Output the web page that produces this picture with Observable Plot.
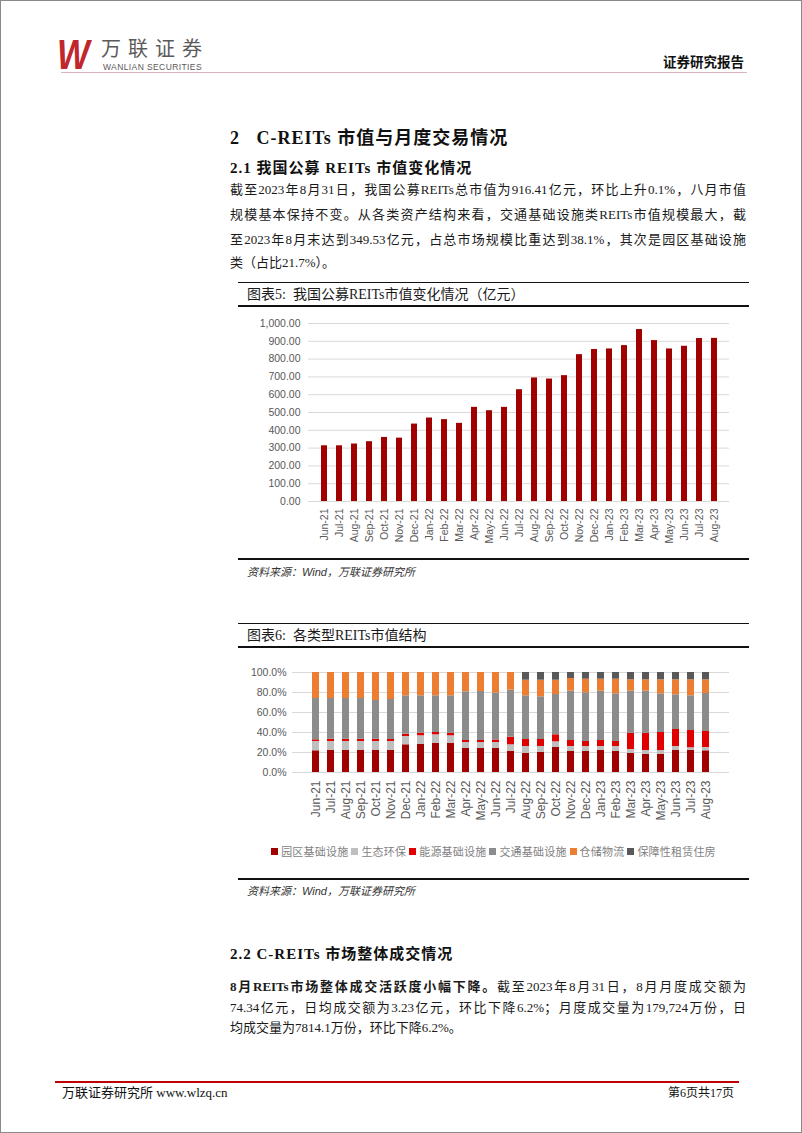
<!DOCTYPE html>
<html><head><meta charset="utf-8">
<script src="https://cdn.jsdelivr.net/npm/d3@7"></script>
<script src="https://cdn.jsdelivr.net/npm/@observablehq/plot@0.6"></script>
<style>
body{margin:0;background:#fff;}
#page{position:relative;width:802px;height:1133px;box-sizing:border-box;border:1px solid #8a8a8a;overflow:hidden;font-family:"Liberation Serif","Noto Sans CJK SC",serif;color:#111;background:#fff;}
.abs{position:absolute;white-space:nowrap;}
.para{position:absolute;left:229px;width:516px;font-size:13px;line-height:20px;text-align:justify;text-align-last:justify;white-space:nowrap;font-family:"Liberation Serif","Noto Sans CJK SC",serif;color:#1a1a1a;}
.para.last{text-align-last:left;}
.hr{position:absolute;background:#111;}
.ttl{position:absolute;left:246px;font-size:14px;line-height:18px;font-family:"Liberation Serif","Noto Sans CJK SC",serif;color:#1a1a1a;white-space:nowrap;}
.src{position:absolute;left:246px;font-size:11px;font-style:italic;font-family:"Liberation Sans","Noto Sans CJK SC",sans-serif;color:#333;white-space:nowrap;line-height:14px;}
.chart{position:absolute;left:237px;}
#legend{position:absolute;left:237px;width:511px;top:842px;height:16px;display:flex;justify-content:center;align-items:center;gap:3px;font-family:"Noto Sans CJK SC",sans-serif;font-size:11px;color:#7f7f7f;letter-spacing:0.2px;}
#legend .it{display:flex;align-items:center;gap:3px;}
#legend .sw{width:7px;height:7px;display:inline-block;}
</style></head>
<body>
<div id="page">
  <!-- header -->
  <div class="abs" style="left:56px;top:30px;font-family:'Liberation Sans',sans-serif;font-weight:bold;font-style:italic;font-size:42px;line-height:48px;color:#c0272d;transform:scaleX(0.82);transform-origin:left top;letter-spacing:-2px;">W</div>
  <div class="abs" style="left:100px;top:36px;font-family:'Noto Sans CJK SC',sans-serif;font-size:20px;line-height:22px;color:#5a5a5a;letter-spacing:7px;">万联证券</div>
  <div class="abs" style="left:102px;top:62px;font-family:'Liberation Sans',sans-serif;font-size:8.5px;line-height:9px;color:#5a5a5a;letter-spacing:0.4px;">WANLIAN SECURITIES</div>
  <div class="abs" style="left:60px;top:71px;width:686px;height:1px;background:#d8b4bc;"></div>
  <div class="abs" style="left:662px;top:51px;font-family:'Noto Sans CJK SC',sans-serif;font-weight:bold;font-size:13.5px;line-height:18px;color:#111;">证券研究报告</div>

  <!-- headings -->
  <div class="abs" style="left:229px;top:125px;font-size:18px;line-height:24px;font-weight:bold;letter-spacing:1px;">2&nbsp;&nbsp;&nbsp;C-REITs 市值与月度交易情况</div>
  <div class="abs" style="left:229px;top:157px;font-size:15px;line-height:20px;font-weight:bold;letter-spacing:1px;">2.1 我国公募 REITs 市值变化情况</div>
  <div class="para" style="top:179px;">截至2023年8月31日，我国公募REITs总市值为916.41亿元，环比上升0.1%，八月市值</div>
  <div class="para" style="top:204px;">规模基本保持不变。从各类资产结构来看，交通基础设施类REITs市值规模最大，截</div>
  <div class="para" style="top:229px;">至2023年8月末达到349.53亿元，占总市场规模比重达到38.1%，其次是园区基础设施</div>
  <div class="para last" style="top:252px;">类（占比21.7%）。</div>

  <!-- chart 5 frame -->
  <div class="hr" style="left:237px;top:281px;width:511px;height:1px;"></div>
  <div class="ttl" style="top:285px;">图表5:&nbsp; 我国公募REITs市值变化情况（亿元）</div>
  <div class="hr" style="left:237px;top:304px;width:511px;height:2px;"></div>
  <div class="chart" id="c1" style="top:310px;"></div>
  <div class="hr" style="left:237px;top:557px;width:511px;height:2px;"></div>
  <div class="src" style="top:564px;">资料来源：Wind，万联证券研究所</div>

  <!-- chart 6 frame -->
  <div class="hr" style="left:237px;top:622px;width:511px;height:1px;"></div>
  <div class="ttl" style="top:626px;">图表6:&nbsp; 各类型REITs市值结构</div>
  <div class="hr" style="left:237px;top:645px;width:511px;height:2px;"></div>
  <div class="chart" id="c2" style="top:650px;"></div>
  <div id="legend"></div>
  <div class="hr" style="left:237px;top:877px;width:511px;height:2px;"></div>
  <div class="src" style="top:883px;">资料来源：Wind，万联证券研究所</div>

  <!-- section 2.2 -->
  <div class="abs" style="left:229px;top:943px;font-size:15px;line-height:20px;font-weight:bold;letter-spacing:1px;">2.2 C-REITs 市场整体成交情况</div>
  <div class="para" style="top:976px;"><b>8月REITs市场整体成交活跃度小幅下降。</b>截至2023年8月31日，8月月度成交额为</div>
  <div class="para" style="top:997px;">74.34亿元，日均成交额为3.23亿元，环比下降6.2%；月度成交量为179,724万份，日</div>
  <div class="para last" style="top:1017px;">均成交量为7814.1万份，环比下降6.2%。</div>

  <!-- footer -->
  <div class="abs" style="left:54px;top:1080px;width:684px;height:2px;background:#c00000;"></div>
  <div class="abs" style="left:61px;top:1084px;font-size:13px;line-height:16px;">万联证券研究所 www.wlzq.cn</div>
  <div class="abs" style="left:660px;top:1084px;width:73px;text-align:right;font-size:12px;line-height:16px;">第6页共17页</div>
</div>
<script>
// ---- data ----
const months = ["Jun-21","Jul-21","Aug-21","Sep-21","Oct-21","Nov-21","Dec-21","Jan-22","Feb-22","Mar-22","Apr-22","May-22","Jun-22","Jul-22","Aug-22","Sep-22","Oct-22","Nov-22","Dec-22","Jan-23","Feb-23","Mar-23","Apr-23","May-23","Jun-23","Jul-23","Aug-23"];
const marketCap = [313,313,323,336,360,356,435,469,460,439,529,510,529,628,694,688,707,825,854,857,876,966,904,857,872,915.5,916.41];

const seriesNames = ["园区基础设施","生态环保","能源基础设施","交通基础设施","仓储物流","保障性租赁住房"];
const seriesColors = ["#a00000","#bfbfbf","#e00000","#8c8c8c","#ed7d31","#595959"];
const parkShare      = [21.7,22,22,22,22,22,27.7,28.3,29.3,29.3,24,24,24,21,19,20,25,21,21,22,21,19,18,18,22,22,21.7];
const ecoShare       = [9.3,9,9,9,9,9,8.3,8.4,8.4,7.4,6,6,6,6.7,7,6,5.7,5,5,4,5,4,4,4,4,2.7,3.3];
const energyShare    = [1.7,2.3,2.3,2.3,2.3,2,2.3,2.6,2.3,2.6,2,2,2.5,7.6,7,7,7,6,5,6,5,16.3,17.3,18,17,17.3,16];
const transportShare = [41.3,40.7,40.7,40.7,38.7,40,38.4,37.4,36.7,37.4,48.7,49,47,47,43.7,42.7,40.3,49.3,48.7,49.3,47.7,42,42,38.7,34.7,34.7,38.1];
const logisticsShare = [26,26,26,26,28,27,23.3,23.3,23.3,23.3,19.3,19,20.5,17.7,15.6,16.6,14.3,12.7,13.6,12,14.6,11.4,11.4,14,15,16,13.6];
const housingShare   = [0,0,0,0,0,0,0,0,0,0,0,0,0,0,7.7,7.7,7.7,6,6.7,6.7,6.7,7.3,7.3,7.3,7.3,7.3,7.3];
const capTicks = [0,100,200,300,400,500,600,700,800,900,1000];
const shareTicks = [0,20,40,60,80,100];

// ---- chart 5 ----
const font = "'Liberation Sans', Arial, sans-serif";
const c1 = Plot.plot({
  width: 511, height: 245,
  marginTop: 12, marginBottom: 55, marginLeft: 70, marginRight: 20,
  style: {fontFamily: font, fontSize: "10.5px", color: "#595959", background: "transparent", overflow: "visible"},
  x: {domain: months, padding: 0.62, label: null},
  y: {domain: [0, 1000], label: null},
  marks: [
    Plot.gridY(capTicks, {stroke: "#d9d9d9", strokeOpacity: 1}),
    Plot.barY(months.map((m, i) => ({m, v: marketCap[i]})), {x: "m", y: "v", fill: "#a00000"}),
    Plot.axisY(capTicks, {tickSize: 0, tickPadding: 8, tickFormat: d3.format(",.2f"), label: null, fontSize: 10.5, fill: "#595959"}),
    Plot.axisX({tickSize: 0, tickPadding: 7, tickRotate: -90, label: null, fontSize: 10.5, fill: "#595959"})
  ]
});
document.getElementById("c1").appendChild(c1);

// ---- chart 6 ----
const shareArrays = [parkShare, ecoShare, energyShare, transportShare, logisticsShare, housingShare];
const long = [];
seriesNames.forEach((s, j) => months.forEach((m, i) => long.push({m, s, v: shareArrays[j][i]})));
const c2 = Plot.plot({
  width: 511, height: 185,
  marginTop: 21, marginBottom: 64, marginLeft: 54, marginRight: 20,
  style: {fontFamily: font, fontSize: "10.5px", color: "#595959", background: "transparent", overflow: "visible"},
  x: {domain: months, padding: 0.53, label: null},
  y: {domain: [0, 100], label: null},
  color: {domain: seriesNames, range: seriesColors},
  marks: [
    Plot.gridY(shareTicks, {stroke: "#d9d9d9", strokeOpacity: 1}),
    Plot.barY(long, Plot.stackY({x: "m", y: "v", fill: "s", order: seriesNames})),
    Plot.axisY(shareTicks, {tickSize: 0, tickPadding: 6, tickFormat: d => d.toFixed(1) + "%", label: null, fontSize: 10.5, fill: "#595959"}),
    Plot.axisX({tickSize: 0, tickPadding: 8, tickRotate: -90, label: null, fontSize: 12, fill: "#595959"})
  ]
});
document.getElementById("c2").appendChild(c2);

// legend
const lg = document.getElementById("legend");
seriesNames.forEach((s, j) => {
  const it = document.createElement("span");
  it.className = "it";
  it.innerHTML = `<span class="sw" style="background:${seriesColors[j]}"></span><span>${s}</span>`;
  lg.appendChild(it);
});
</script>
</body></html>
